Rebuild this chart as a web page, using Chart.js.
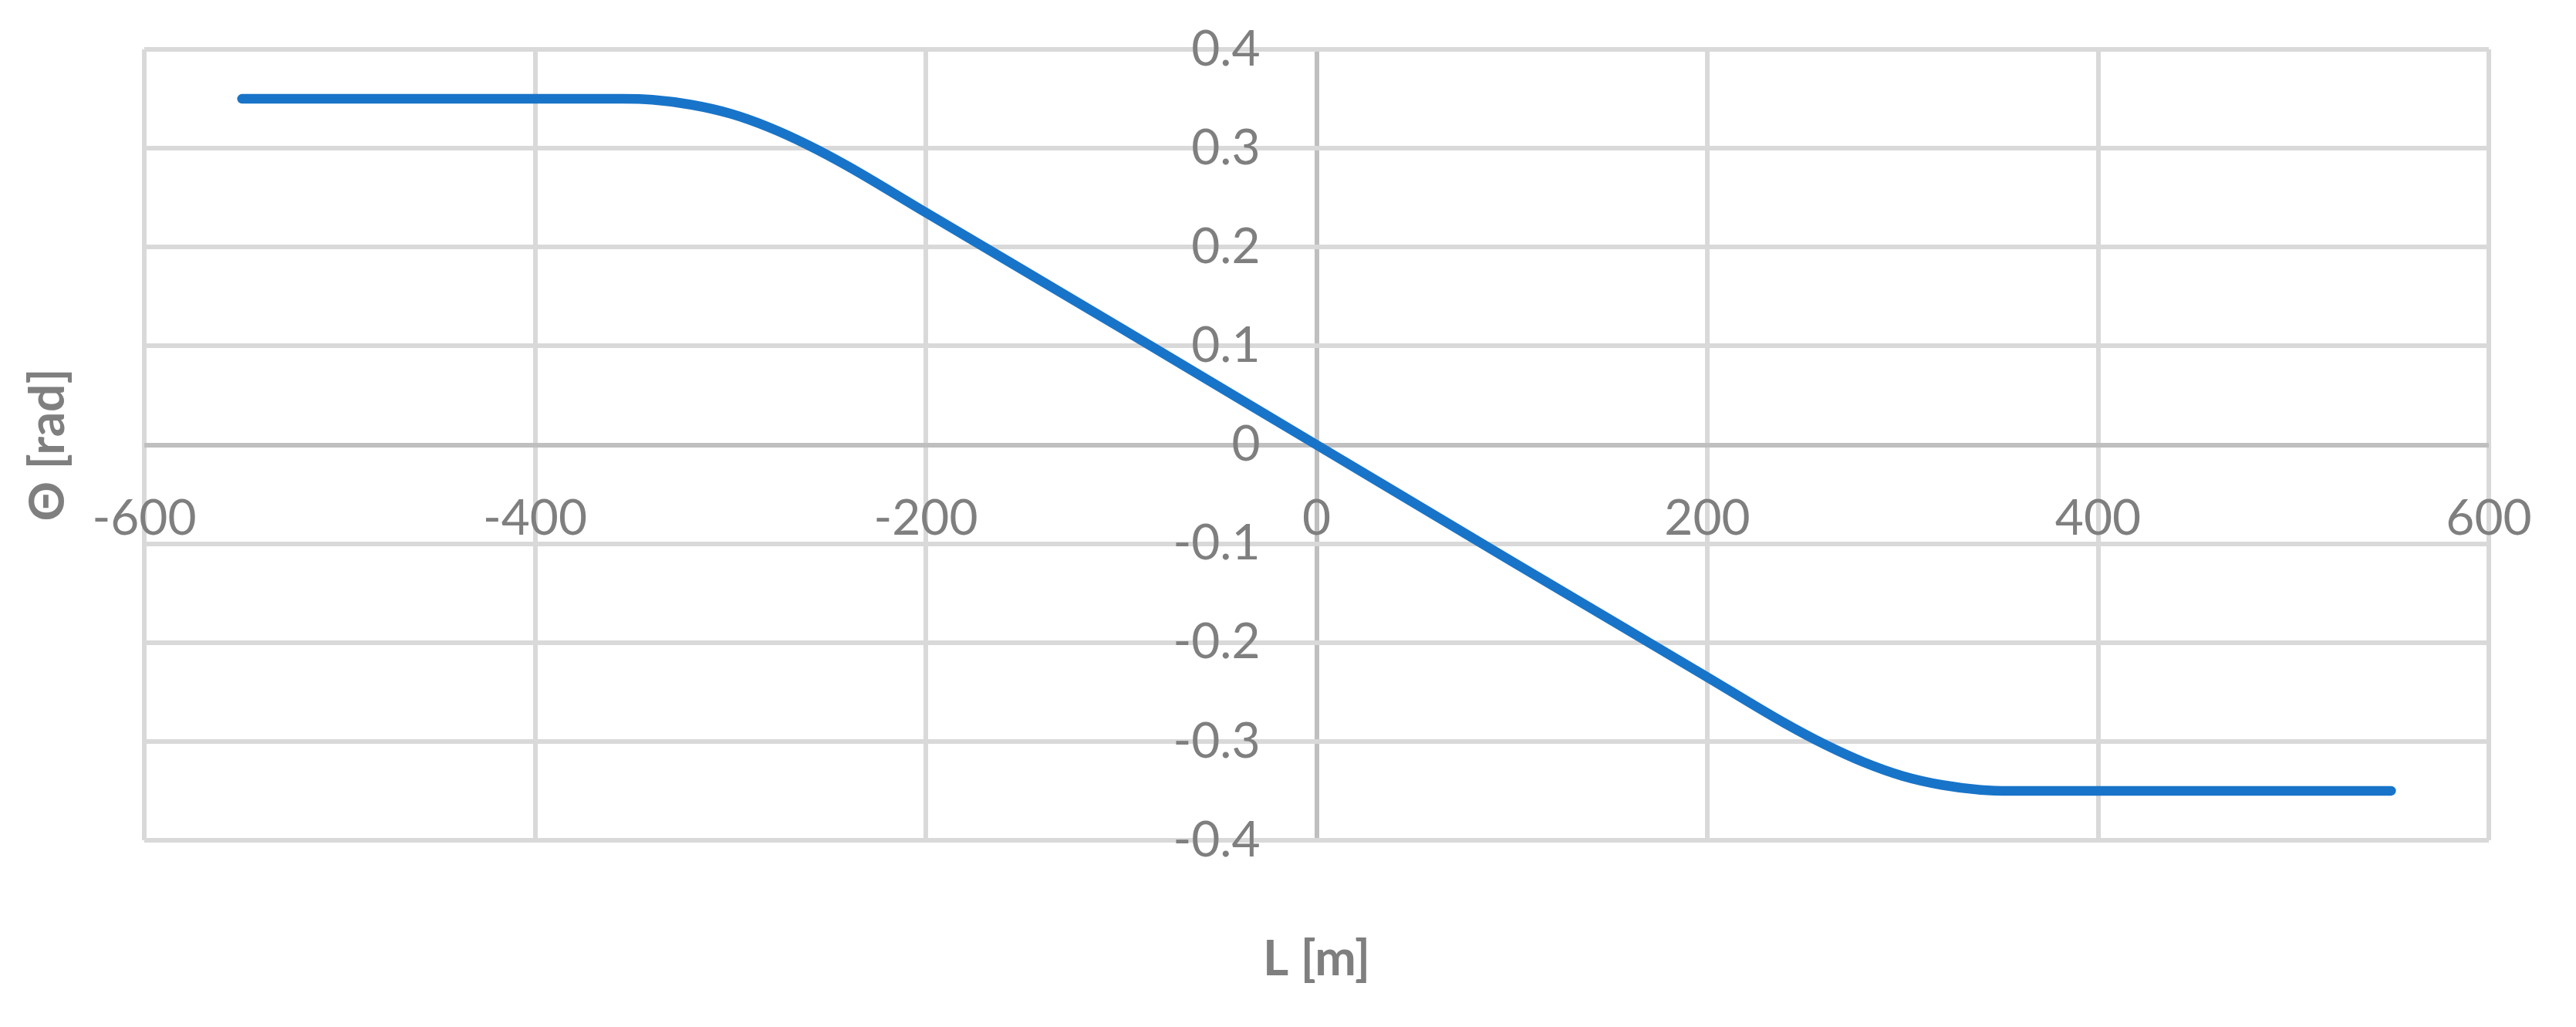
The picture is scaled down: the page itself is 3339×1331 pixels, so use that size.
<!DOCTYPE html>
<html>
<head>
<meta charset="utf-8">
<script src="https://cdn.jsdelivr.net/npm/chart.js@4.4.1/dist/chart.umd.min.js"></script>
<style>
  body { margin: 0; background: #fff; }
  #wrap { width: 3339px; height: 1331px; }
</style>
</head>
<body>
<div id="wrap"><canvas id="thetaChart" width="3339" height="1331"></canvas></div>
<script>
// values
const lengthValues = [-550, -355, -340, -320, -300, -280, -260, -240, -200, -100, 0, 100, 200, 240, 260, 280, 300, 320, 340, 355, 550];
const thetaValues = [0.35, 0.35, 0.349, 0.344, 0.335, 0.321, 0.303, 0.282, 0.235, 0.118, 0, -0.118, -0.235, -0.282, -0.303, -0.321, -0.335, -0.344, -0.349, -0.35, -0.35];

// axis tick labels
const xTickLabels = ['-600', '-400', '-200', '0', '200', '400', '600'];
const yTickLabels = ['0.4', '0.3', '0.2', '0.1', '0', '-0.1', '-0.2', '-0.3', '-0.4'];

const labelColor = '#7f7f7f';

// Excel style: tick labels sit next to the zero axes, not at the chart edges
const axisLabels = {
    id: 'axisLabels',
    beforeDatasetsDraw(chart) {
        const ctx = chart.ctx;
        const xs = chart.scales.x;
        const ys = chart.scales.y;
        const x0 = xs.getPixelForValue(0);
        const y0 = ys.getPixelForValue(0);
        ctx.save();
        ctx.fillStyle = labelColor;
        ctx.font = '64px Lato';
        ctx.textBaseline = 'middle';
        ctx.textAlign = 'right';
        yTickLabels.forEach(function (t) {
            ctx.fillText(t, x0 - 73, ys.getPixelForValue(parseFloat(t)));
        });
        ctx.textAlign = 'center';
        xTickLabels.forEach(function (t) {
            ctx.fillText(t, xs.getPixelForValue(parseFloat(t)), y0 + 96);
        });
        ctx.restore();
    }
};

function gridColor(ctx) {
    return ctx.tick && Math.abs(ctx.tick.value) < 1e-9 ? '#bfbfbf' : '#d9d9d9';
}

new Chart(document.getElementById('thetaChart').getContext('2d'), {
    type: 'line',
    data: {
        datasets: [{
            data: lengthValues.map(function (l, i) { return { x: l, y: thetaValues[i] }; }),
            borderColor: '#1874c8',
            borderWidth: 12.5,
            borderCapStyle: 'round',
            borderJoinStyle: 'round',
            pointRadius: 0,
            cubicInterpolationMode: 'monotone',
            fill: false
        }]
    },
    options: {
        responsive: false,
        animation: false,
        devicePixelRatio: 1,
        layout: { padding: { top: 64, right: 113, bottom: 0, left: 0 } },
        plugins: { legend: { display: false }, tooltip: { enabled: false } },
        scales: {
            x: {
                type: 'linear',
                min: parseFloat(xTickLabels[0]),
                max: parseFloat(xTickLabels[xTickLabels.length - 1]),
                ticks: { display: false, stepSize: 200 },
                border: { display: false },
                grid: { color: gridColor, lineWidth: 6, drawTicks: false },
                title: {
                    display: true,
                    text: 'L [m]',
                    color: labelColor,
                    font: { family: 'Lato', size: 64, weight: 'bold', lineHeight: 1 },
                    padding: { top: 122, bottom: 56 }
                }
            },
            y: {
                type: 'linear',
                min: parseFloat(yTickLabels[yTickLabels.length - 1]),
                max: parseFloat(yTickLabels[0]),
                ticks: { display: false, stepSize: 0.1 },
                border: { display: false },
                grid: { color: gridColor, lineWidth: 6, drawTicks: false },
                title: {
                    display: true,
                    text: 'Θ [rad]',
                    color: labelColor,
                    font: { family: 'Lato', size: 64, weight: 'bold', lineHeight: 1 },
                    padding: { top: 30, bottom: 93 }
                }
            }
        }
    },
    plugins: [axisLabels]
});
</script>
</body>
</html>
